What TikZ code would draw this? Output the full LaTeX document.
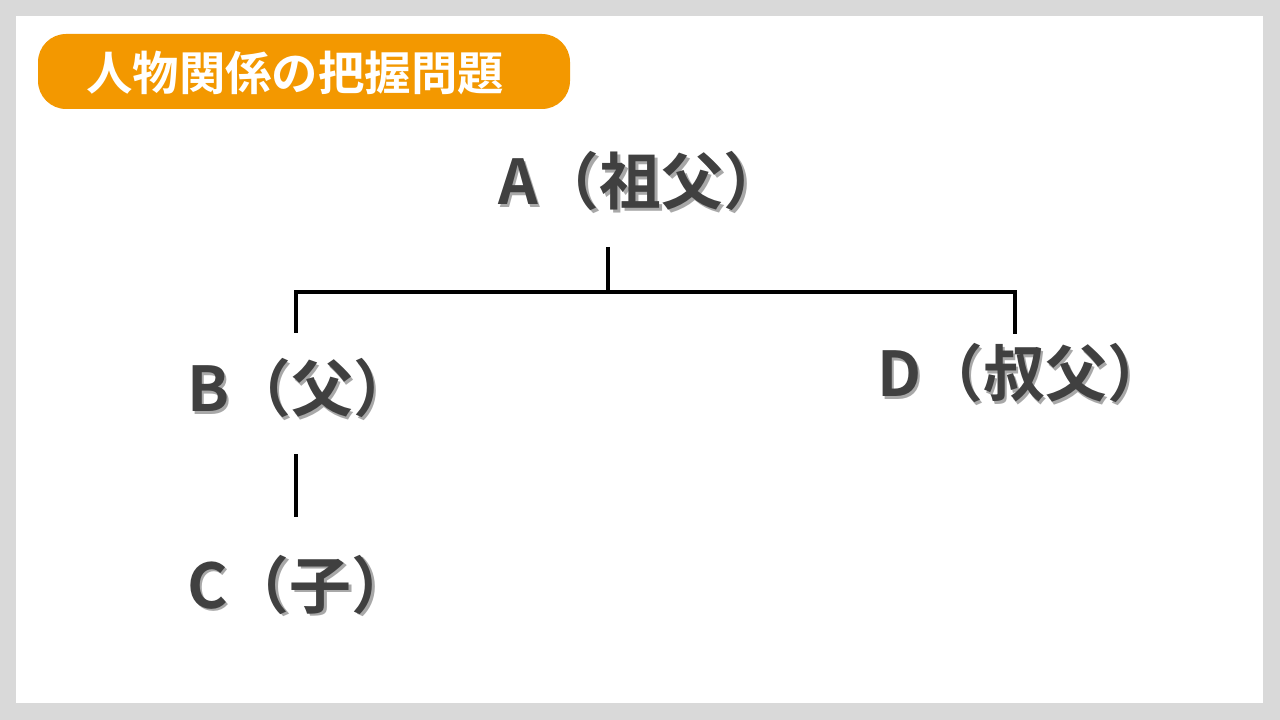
\documentclass[tikz,border=0pt]{standalone}
\usepackage{fontspec}
\setmainfont{Noto Sans CJK JP}[BoldFont=* Bold]
\usetikzlibrary{positioning,calc}
\definecolor{framegray}{HTML}{D9D9D9}
\definecolor{tagorange}{HTML}{F39800}
\definecolor{inkgray}{HTML}{404040}
\definecolor{dropgray}{HTML}{A8A8A8}
% name, position, text (with a grey drop shadow)
\newcommand{\person}[3]{%
  \node[who,text=dropgray,anchor=base west] at ($(#2)+(2.5,2.5)$) {#3};
  \node[who,text=inkgray,anchor=base west] (#1) at (#2) {#3};}

\begin{document}
\begin{tikzpicture}[x=0.025cm,y=-0.025cm,
   who/.style={inner sep=0pt,font=\fontsize{44}{50}\selectfont\bfseries},
   link/.style={line width=2.2pt,black}]
   \fill[framegray] (0,0) rectangle (1280,720);
   \fill[white] (16,16) rectangle (1263,703);
   \fill[tagorange,rounded corners=20] (38,34) rectangle (570,109);
   \node[text=white,anchor=west,inner sep=0pt,font=\fontsize{33}{36}\selectfont\bfseries] (title) at (86,73) {人物関係の把握問題};
   \person{A}{498,205}{A（祖父）}
   \person{B}{187,412}{B（父）}
   \person{C}{187,608}{C（子）}
   \person{D}{877,397}{D（叔父）}
   \coordinate (Aroot) at (608,247);
   \coordinate (mid) at (608,292);
   \coordinate (Bjoin) at (296,292);
   \coordinate (Djoin) at (1015,292);
   \coordinate (Btop) at (296,333);
   \coordinate (Dtop) at (1015,334);
   \coordinate (Bfoot) at (296,454);
   \coordinate (Ctop) at (296,517);
   \draw[link] (Aroot)--(mid);
   \draw[link] (Btop)--(Bjoin)--(Djoin)--(Dtop);
   \draw[link] (Bfoot)--(Ctop); % father to child
\end{tikzpicture}
\end{document}
